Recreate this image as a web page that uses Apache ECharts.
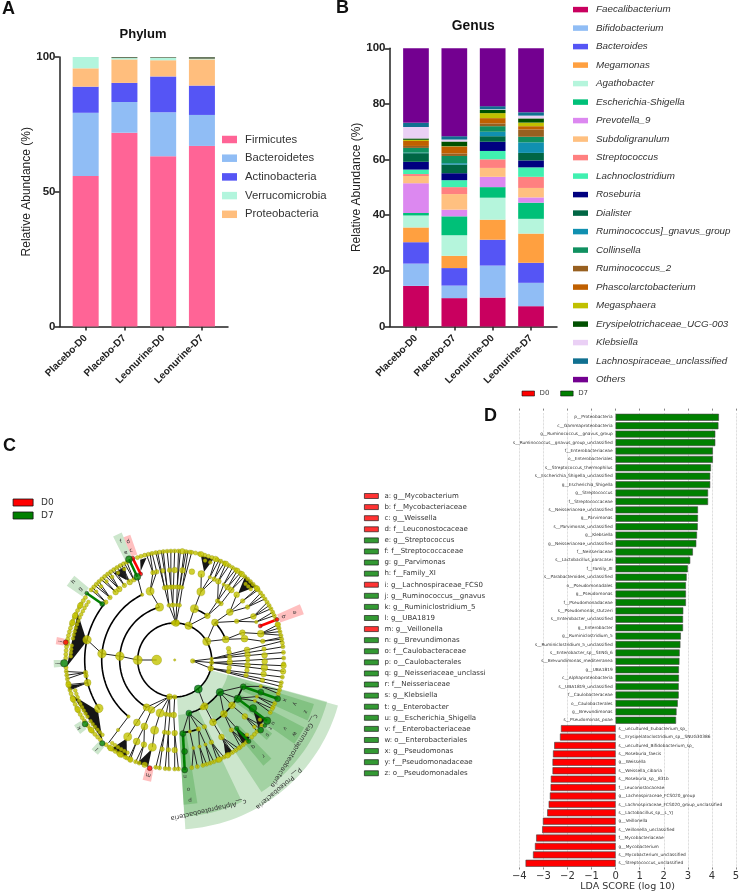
<!DOCTYPE html>
<html><head><meta charset="utf-8">
<style>html,body{margin:0;padding:0;background:#fff}#c{width:742px;height:893px}</style>
<script src="https://cdn.jsdelivr.net/npm/echarts@6/dist/echarts.min.js"></script>
</head><body><div id="c"></div>
<script>
// ---------- Panels A and B ----------
const groups = ['Placebo-D0','Placebo-D7','Leonurine-D0','Leonurine-D7'];
const phylumNames = ['Firmicutes','Bacteroidetes','Actinobacteria','Proteobacteria','Verrucomicrobia','Other phyla'];
const phylumLegend = ['Firmicutes','Bacteroidetes','Actinobacteria','Verrucomicrobia','Proteobacteria'];
const firmicutes = [55.8,71.9,63.2,67];
const bacteroidetes = [23.5,11.4,16.3,11.5];
const actinobacteria = [9.7,7.1,13.3,10.9];
const proteobacteria = [6.8,8.7,6,9.7];
const verrucomicrobia = [4.2,0.5,0.9,0.2];
const otherPhyla = [0,0.4,0.3,0.7];
const phylumValues = [firmicutes,bacteroidetes,actinobacteria,proteobacteria,verrucomicrobia,otherPhyla];
const phylumColors = ['#ff6496','#90bdf5','#5555f5','#ffbe7d','#b2f5dd','#6a7a60'];

const genusNames = ['Faecalibacterium','Bifidobacterium','Bacteroides','Megamonas','Agathobacter','Escherichia-Shigella','Prevotella_9','Subdoligranulum','Streptococcus','Lachnoclostridium','Roseburia','Dialister','Ruminococcus]_gnavus_group','Collinsella','Ruminococcus_2','Phascolarctobacterium','Megasphaera','Erysipelotrichaceae_UCG-003','Klebsiella','Lachnospiraceae_unclassified','Others'];
const genusColors = ['#c9005f','#90bdf5','#5555f5','#ffa040','#b5f5dc','#00c078','#dc88f0','#ffc080','#ff8080','#40f0b0','#000080','#006644','#1090b0','#109060','#986020','#c06000','#c0c000','#005000','#ead0f5','#107090','#730090'];
const faecalibacterium=[14.6,10.2,10.4,7.3];
const bifidobacterium=[8.0,4.5,11.5,8.4];
const bacteroides=[7.7,6.3,9.3,7.2];
const megamonas=[5.3,4.4,7.2,10.5];
const agathobacter=[4.3,7.4,7.9,5.3];
const escherichia=[0.9,6.8,3.8,5.8];
const prevotella=[10.7,2.4,3.7,1.9];
const subdoligranulum=[2.6,5.6,3.2,3.4];
const streptococcus=[0.7,2.5,3.1,4.0];
const lachnoclostridium=[1.6,2.5,3.0,3.4];
const roseburia=[2.8,2.5,3.3,2.5];
const dialister=[3.1,3.1,2.0,2.7];
const gnavus=[0.2,0.5,1.6,3.8];
const collinsella=[1.7,2.6,2.0,2.0];
const ruminococcus2=[0.7,0.9,1.0,2.6];
const phascolarctobacterium=[1.8,2.5,1.9,1.2];
const megasphaera=[0.4,0.1,1.8,1.3];
const erysipelotrichaceae=[0.5,1.7,1.2,1.5];
const klebsiella=[4.1,0.7,0.2,1.0];
const lachnoUnclassified=[1.5,1.2,1.1,1.2];
const othersGenus=[26.8,31.6,20.8,23];
const genusValues=[faecalibacterium,bifidobacterium,bacteroides,megamonas,agathobacter,escherichia,prevotella,subdoligranulum,streptococcus,lachnoclostridium,roseburia,dialister,gnavus,collinsella,ruminococcus2,phascolarctobacterium,megasphaera,erysipelotrichaceae,klebsiella,lachnoUnclassified,othersGenus];

// ---------- Panel D ----------
const ldaCategories=['p__Proteobacteria','c__Gammaproteobacteria','g__Ruminococcus__gnavus_group','s__Ruminococcus__gnavus_group_unclassified','f__Enterobacteriaceae','o__Enterobacteriales','s__Streptococcus_thermophilus','s__Escherichia_Shigella_unclassified','g__Escherichia_Shigella','g__Streptococcus','f__Streptococcaceae','s__Neisseriaceae_unclassified','g__Parvimonas','s__Parvimonas_unclassified','g__Klebsiella','g__Neisseriaceae_unclassified','f__Neisseriaceae','s__Lactobacillus_paracasei','f__Family_XI','s__Parabacteroides_unclassified','o__Pseudomonadales','g__Pseudomonas','f__Pseudomonadaceae','s__Pseudomonas_stutzeri','s__Enterobacter_unclassified','g__Enterobacter','g__Ruminiclostridium_5','s__Ruminiclostridium_5_unclassified','s__Enterobacter_sp__SENG_6','s__Brevundimonas_mediterranea','g__UBA1819','c__Alphaproteobacteria','s__UBA1819_unclassified','f__Caulobacteraceae','o__Caulobacterales','g__Brevundimonas','s__Pseudomonas_poae','s__uncultured_Eubacterium_sp_','s__Erysipelatoclostridium_sp__SNUG30386','s__uncultured_Bifidobacterium_sp_','s__Roseburia_faecis','g__Weissella','s__Weissella_cibaria','s__Roseburia_sp__831b','f__Leuconostocaceae','g__Lachnospiraceae_FCS020_group','s__Lachnospiraceae_FCS020_group_unclassified','s__Lactobacillus_sp__L_YJ','g__Veillonella','s__Veillonella_unclassified','f__Mycobacteriaceae','g__Mycobacterium','s__Mycobacterium_unclassified','s__Streptococcus_unclassified'];
const ldaD7=[4.29,4.27,4.14,4.14,4.04,4.04,3.96,3.93,3.93,3.84,3.84,3.42,3.42,3.41,3.38,3.35,3.21,3.10,3.00,2.95,2.92,2.92,2.92,2.81,2.80,2.80,2.71,2.69,2.66,2.65,2.63,2.63,2.62,2.62,2.58,2.53,2.51];
const ldaD0=[-2.27,-2.31,-2.55,-2.60,-2.62,-2.62,-2.69,-2.70,-2.73,-2.78,-2.84,-3.02,-3.05,-3.30,-3.35,-3.43,-3.74];

// ---------- Panel C (radius in px from centre, angle in degrees) ----------
const biomarkerNames=['a: g__Mycobacterium','b: f__Mycobacteriaceae','c: g__Weissella','d: f__Leuconostocaceae','e: g__Streptococcus','f: f__Streptococcaceae','g: g__Parvimonas','h: f__Family_XI','i: g__Lachnospiraceae_FCS020_group','j: g__Ruminococcus__gnavus_group','k: g__Ruminiclostridium_5','l: g__UBA1819','m: g__Veillonella','n: g__Brevundimonas','o: f__Caulobacteraceae','p: o__Caulobacterales','q: g__Neisseriaceae_unclassified','r: f__Neisseriaceae','s: g__Klebsiella','t: g__Enterobacter','u: g__Escherichia_Shigella','v: f__Enterobacteriaceae','w: o__Enterobacteriales','x: g__Pseudomonas','y: f__Pseudomonadaceae','z: o__Pseudomonadales'];
const biomarkerGroup=['D0','D0','D0','D0','D7','D7','D7','D7','D0','D7','D7','D7','D0','D7','D7','D7','D7','D7','D7','D7','D7','D7','D7','D7','D7','D7'];
const biomarkerNodes=[[110,21.6,4],[92,21.7,4],[110,112.4,4],[92.5,111.6,4],[110.6,114.4,7],[91.3,114.2,7],[110.4,142.8,4],[91.5,142.3,5],[110.4,170.8,5],[110.5,181.7,7.5],[110,215.5,6],[110.4,229,5.5],[111,257,5],[110.4,-84.8,6],[92,-83.8,6],[74,-83.6,6],[110,-47.7,4.5],[92.2,-47.8,4.5],[110.9,-39.2,6],[111.5,-36,4],[110.5,-33.3,7.5],[92,-31.7,7.5],[74,-31.6,7.5],[110,-20.6,6],[92,-20.5,6],[73.6,-21.3,6]];
const letterPlaces=[[129,21.6],[117,21.7],[118,111.7],[127,111.4],[118,114.5],[130,114.4],[118,143],[128,142.3],[115,170.8],[117,181.7],[117,215.5],[118,229],[118,257],[117,-85],[130,-84],[141,-83.8],[117,-47.8],[130.5,-47.3],[119,-38.9],[117,-35.6],[117,-32.7],[129.7,-31.8],[140.6,-31.7],[117,-20],[128,-20.2],[140.5,-21.6]];
const taxaGreen=[[37.4,-50.9,8],[55.6,-35.5,7.5],[55,-75,6]];
const taxaSectors=[[37,169.5,-86.4,-15.6],[55,158,-56.7,-15.3],[55,157,-86.5,-64.6]];
const boxesD7=[[74,146,-24.5,-17.5],[74,146,-35,-27.5],[92,138,-50,-45.5],[111,122,-41,-37],[74,145,-86.5,-81],[112,138,112.6,116.5],[112,131,140,145.5],[112,121,180,183.5],[112,120,213,218],[112,122,227,231]];
const boxesD0=[[112,137,19.5,24],[112,133,109.5,112.6],[112,120,169,172.5],[112,124,255,259]];
const linksD0=[[110,21.6,92,21.7],[110,112.4,92.5,111.6]];
const linksD7=[[110.6,114.4,91.3,114.2],[110.4,142.8,91.5,142.3],[110.4,-84.8,74,-83.6],[110,-47.7,92.2,-47.8],[110.5,-33.3,74,-31.6],[110,-20.6,73.6,-21.3]];
const cladeArcs=[[37,0,360],[55,106,240],[55,-75,-35.5],[55,22,43],[55,53.5,69],[73,116.5,230.7],[73,-58.4,-21.3],[73,-83.6,-71],[90,142,213.5],[73,50.6,54]];
const cladeWedges=[[93,71.6,108,69,76],[92,46.4,110,42,50],[90,168,108,154,183.5],[92,213.5,108,199,228],[92,238.5,109,234.4,244],[92,255.6,110,250,256],[93,121,106,118,125],[95,111,106,105.4,109],[92,194.7,110,193.5,196],[92,-32,108,-39,-33],[90,-48,108,-51,-46],[95,-59,108,-62,-58]];
const cladeLines=[
[18,180,37,[180]],[37,180,55,[176]],[55,176,73,[175]],[73,175,90,[167]],
[18,-3,37,[2,-4,-13]],[37,2,110,[10,7,4]],[37,-4,110,[1,-3,-6]],[37,-13,110,[-9,-12,-14]],
[37,88,55,[96,92,88,85]],[55,96,73,[98,96]],[55,92,73,[93,91]],[55,88,73,[88,86]],[55,85,73,[84]],
[73,98,110,[100,99]],[73,96,110,[97,96]],[73,93,110,[94,92]],[73,91,110,[90]],[73,88,110,[88,87]],[73,86,110,[85,84]],[73,84,110,[83,81]],
[37,68,55,[69,53.5]],[55,69,73,[69]],[73,69,90,[72.8,67,64]],[55,53.5,73,[54,50.6]],[73,54,90,[61,57,54]],[73,50.6,90,[51]],
[90,61,110,[62,60]],[90,64,110,[65,63]],[90,67,110,[68,66]],[90,57,110,[58,56]],[90,54,110,[55,53]],[90,51,110,[52,50]],
[37,30,55,[43,22]],[55,43,73,[41,32]],[73,41,90,[46.5,41,36]],[73,32,90,[29,25]],[90,41,110,[41,40]],[90,36,110,[38,36,34]],[90,29,110,[32,30,28]],[90,25,110,[26,24]],
[55,22,73,[22,17]],[73,22,90,[17]],[73,17,90,[12]],[90,17,110,[19,17,15,13]],[90,12,110,[12,11]],
[90,188,110,[186,188,190]],[90,194.6,110,[193,196]],
[55,106,73,[109.7]],[73,109.7,90,[104,101.5]],[73,116.5,90,[114.2]],[90,104,110,[105,103]],[90,101.5,110,[102]],
[90,117,110,[116,117.5]],[90,120,110,[119,120.5,122]],[90,124,110,[123.5,125]],[90,128,110,[126.5,128,129.5]],[90,131,110,[131,132.5]],[90,136,110,[134,135.5,137]],[90,140,110,[138.5,140]],
[37,262,55,[239.2,245,254.6,261,265]],[37,270,55,[269]],[55,239.2,73,[238.8]],[55,245,73,[245.5]],[55,254.6,73,[254]],[55,261,73,[262]],[55,265,73,[265]],[55,269,73,[270]],
[73,238.8,90,[238.5]],[73,245.5,90,[245,250]],[73,254,90,[255.6]],[73,262,110,[260,262]],[73,265,110,[265,267]],[73,270,110,[270,272]],[90,245,110,[245,246]],[90,250,110,[249,251]],
[73,230.7,106,[231.4]],
[37,-50.9,55,[-57]],[55,-75,73,[-83.6,-78,-71,-66]],[73,-78,90,[-78]],[73,-71,90,[-74,-70]],[73,-66,90,[-66]],[90,-78,110,[-81,-78]],[90,-74,110,[-75,-73]],[90,-70,110,[-71,-69]],[90,-66,110,[-67,-65,-63]],
[55,-57,73,[-58.4]],[73,-58.4,90,[-58.7]],[90,-58.7,110,[-60,-58,-56,-54]],
[55,-35.5,73,[-47.6,-38.4,-31.6,-21.3]],[73,-47.6,90,[-47.8,-51]],[90,-51,110,[-53,-51,-49]],[73,-38.4,90,[-38.8]],[90,-38.8,110,[-41,-39,-37]],[73,-31.6,90,[-27,-24]],[90,-27,110,[-28.8,-26.5]],[90,-24,110,[-25.4,-23.5]],[73,-21.3,90,[-17]],[90,-17,110,[-18,-16]]
];
// nodes per ring: [angle, size]
const ring0=[[0,2]];
const ring18=[[180,8.5],[-3,4]];
const ring37=[[180,8],[88,6],[92,4],[86,4],[68,6.5],[30,7],[2,3],[-4,4],[-13,5],[262,5],[270,4]];
const ring55=[[176,7.5],[106,7],[69,7],[53.5,5],[43,6],[22,6],[96,3.5],[92,4],[88,3],[85,3.5],[12,4],[8,4],[3,4],[-2,5],[-8,4],[-12,4],[239.2,6],[245,6],[254.6,7],[261,4],[265,4],[269,5],[-57,6],[-60,4]];
const ring73=[[175,7.5],[109.7,7],[116.5,3],[230.7,3],[98,4],[96,4],[93,4],[91,4],[88,4],[86,4],[84,3],[69,7],[54,4],[50.6,4],[41,6],[32,4],[22,5],[17,6],[8,5],[4,5],[0,4],[-4,5],[-8,4],[-12,4],[238.8,6],[245.5,6],[254,7],[262,4],[265,4],[270,5],[-58.4,6],[-66,4],[-71,4],[-78,3],[-47.6,6],[-38.4,6]];
const ring90=[[167,7.5],[188,4],[190,4],[194.6,6],[212.5,7.5],[104,4],[101.5,4],[97.6,4],[93.3,4],[90,5],[85,5],[79,5],[72.8,6],[67,3],[64,4],[61,5],[57,3],[54,5],[51,5],[46.5,5],[41,4],[36,4],[29,5],[25,3],[17,6],[12,4],[7,4],[3,5],[-1,5],[-5,6],[-9,5],[-13,4],[128,5],[131,5],[136,4],[140,4],[120,5],[124,4],[117,4],[231,3],[238.5,7],[245,6],[250,5],[255.6,7],[262,4],[266,4],[270,5],[-78,3],[-74,3],[-70,3],[-66,4],[-58.7,5],[-51,4],[-38.8,5],[-27,3],[-24,3],[-17,3]];
const outerSmall=[100,98,96,94,92,90,88,84,82,81,79,77,74,72,70,67,65,63,60,58,56,53,50,48,46,44,42,40,38,36,34,32,30,28,26,24,22,19,17,15,13,11,9,7,4,1,-2,-9,-12,-14,-16,-18,-23.5,-25.4,-26.5,-28.8,-37,-41,-43,-45,-49,-51,-53,-54,-56,-58,-60,-63,-65,-67,-69,-71,-73,-75,-78,-81,262,265,267,270,272,260,251,249,246,244,106,104,102,108,110,116,118,120,122,124,126,128,130,132,134,136,138,140,145,147,149,151,153,155,157,159,161,163,165,167,169,173,175,177,179,184,186,188,190,192,194,196,198,200,202,204,206,208,210,212,214,217,219,221,223,225,227,231,233,235,237,239,241,243];
const outerLarge=[86,76,68,62,55,52,41,-3,-6,19,150,156,160,171,193,201,207,220,234,240,246,254,-61,-66];
const innerBand=[146,148,150,152,154,156,158,160,162,164,166,168,172,174,176,178,197,199,201,203,205,207,209,211,213,216,218,220,222,224,226,233,235,237,239,241,243,70,73,47,45,43,-35,-40,-46,119,123,127,131,135,139];
const texts=['c__Gammaproteobacteria','p__Proteobacteria','c__Alphaproteobacteria'];
const textPlaces=[[150,-37.2,-121.8],[165.6,-51,-139.5],[153.7,-77.3,-167.1]];

const FONT='"Liberation Sans",Arial,sans-serif';
const DJ='"DejaVu Sans",sans-serif';
const GREEN='#008000', RED='#ff0000', OLIVE='#c4c400';
const axisLine={lineStyle:{color:'#222',width:1.5}};

function stackBars(names,vals,cols,xIdx,yIdx,width){
  return names.map((n,i)=>({name:n,type:'bar',stack:'s'+xIdx,xAxisIndex:xIdx,yAxisIndex:yIdx,barWidth:width,
    itemStyle:{color:cols[i]},data:vals[i],z:3,silent:true}));
}
function catAxis(gridIndex){
  return {type:'category',gridIndex,data:groups,axisLine:{show:false},
    axisTick:{show:true,alignWithLabel:true,length:4,lineStyle:{color:'#222',width:1.5}},
    axisLabel:{rotate:45,interval:0,margin:10,fontSize:10,fontWeight:'bold',fontFamily:FONT,color:'#222'}};
}
function hiddenY(gridIndex){return {type:'value',gridIndex,min:0,max:100,show:false};}
function frameX(gridIndex){return {type:'value',gridIndex,min:0,max:1,axisLine:{show:true,...axisLine},axisTick:{show:false},axisLabel:{show:false},splitLine:{show:false}};}
function frameY(gridIndex,interval){return {type:'value',gridIndex,min:0,max:100,interval,
  axisLine:{show:true,...axisLine},axisTick:{show:true,length:5,lineStyle:{color:'#222',width:1.5}},
  axisLabel:{fontSize:11.5,fontWeight:'bold',fontFamily:FONT,color:'#222',margin:4},splitLine:{show:false},
  name:'Relative Abundance (%)',nameLocation:'middle',nameGap:27,nameTextStyle:{fontSize:12,fontFamily:FONT,color:'#222'}};}

const ringRows=[];
[[0,ring0],[18,ring18],[37,ring37],[55,ring55],[73,ring73],[90,ring90]].forEach(([r,l])=>l.forEach(([a,s])=>ringRows.push([r,a,s*1.15])));
outerSmall.forEach(a=>ringRows.push([109,a,4.2]));
outerLarge.forEach(a=>ringRows.push([109,a,5.6]));
innerBand.forEach(a=>ringRows.push([104,a,3.8]));
const lineRows=[];
cladeLines.forEach(([r0,a0,r1,kids])=>kids.forEach(a=>lineRows.push([r0,a0,r1,a])));

function arcPts(api,r,a0,a1){const p=[];const n=Math.max(2,Math.ceil(Math.abs(a1-a0)/2));for(let i=0;i<=n;i++)p.push(api.coord([r,a0+(a1-a0)*i/n]));return p;}
const sectorRender=(fill)=>(params,api)=>{
  const r0=api.value(0),r1=api.value(1),a0=api.value(2),a1=api.value(3);
  const pts=arcPts(api,r1,a0,a1).concat(arcPts(api,r0,a1,a0));
  return {type:'polygon',shape:{points:pts},style:{fill,stroke:null}};
};
const segmentRender=(stroke,lineWidth)=>(params,api)=>({type:'line',
  shape:{x1:api.coord([api.value(0),api.value(1)])[0],y1:api.coord([api.value(0),api.value(1)])[1],
         x2:api.coord([api.value(2),api.value(3)])[0],y2:api.coord([api.value(2),api.value(3)])[1]},
  style:{stroke,lineWidth}});
function customPolar(data,renderItem,z){return {type:'custom',coordinateSystem:'polar',polarIndex:0,data,renderItem,z,silent:true,encode:{radius:0,angle:1},animation:false};}

const series=[
  ...stackBars(phylumNames,phylumValues,phylumColors,0,0,26),
  ...stackBars(genusNames,genusValues,genusColors,2,2,25.7),
  {name:'D7',type:'bar',stack:'lda',xAxisIndex:4,yAxisIndex:4,barWidth:7,silent:true,z:3,
    itemStyle:{color:GREEN,borderColor:'#444',borderWidth:0.6},
    label:{show:true,position:'left',distance:3,formatter:'{b}',fontSize:4.3,fontFamily:DJ,color:'#333'},
    data:ldaD7.concat(ldaD0.map(()=>null))},
  {name:'D0',type:'bar',stack:'lda',xAxisIndex:4,yAxisIndex:4,barWidth:7,silent:true,z:3,
    itemStyle:{color:RED,borderColor:'#444',borderWidth:0.6},
    label:{show:true,position:'right',distance:3,formatter:'{b}',fontSize:4.3,fontFamily:DJ,color:'#333'},
    data:ldaD7.map(()=>null).concat(ldaD0)},
  customPolar(taxaSectors,sectorRender('rgba(0,128,0,0.2)'),1),
  customPolar(boxesD7,sectorRender('rgba(0,128,0,0.2)'),1),
  customPolar(boxesD0,sectorRender('rgba(255,0,0,0.25)'),1),
  customPolar(cladeWedges,(params,api)=>{
    const root=api.coord([api.value(0),api.value(1)]);
    const p0=api.coord([api.value(2),api.value(3)]),p1=api.coord([api.value(2),api.value(4)]);
    return {type:'polygon',shape:{points:[root,p0,p1]},style:{fill:'#161616'}};
  },4),
  customPolar(lineRows,segmentRender('#222',1),4),
  customPolar(cladeArcs,(params,api)=>({type:'polyline',shape:{points:arcPts(api,api.value(0),api.value(1),api.value(2))},style:{stroke:'#000',lineWidth:1.6,fill:null}}),5),
  customPolar(linksD7,segmentRender(GREEN,2.6),6),
  customPolar(linksD0,segmentRender(RED,2.6),6),
  {type:'scatter',coordinateSystem:'polar',polarIndex:0,silent:true,z:7,data:ringRows,symbolSize:v=>v[2],
    itemStyle:{color:OLIVE,borderColor:'#8a8a00',borderWidth:0.4}},
  {type:'scatter',coordinateSystem:'polar',polarIndex:0,silent:true,z:8,data:taxaGreen,symbolSize:v=>v[2],
    itemStyle:{color:GREEN,borderColor:'#033',borderWidth:0.5}},
  ...biomarkerNames.map((n,i)=>({name:n,type:'scatter',coordinateSystem:'polar',polarIndex:0,silent:true,z:8,
    data:[biomarkerNodes[i]],symbolSize:v=>v[2],
    itemStyle:{color:biomarkerGroup[i]==='D0'?RED:GREEN,borderColor:'#222',borderWidth:0.5}})),
  customPolar(letterPlaces,(params,api)=>{
    const p=api.coord([api.value(0),api.value(1)]);
    return {type:'text',x:p[0],y:p[1],rotation:(api.value(1)-95)*Math.PI/180,
      style:{text:biomarkerNames[params.dataIndex][0],fontSize:5.5,fontFamily:DJ,fill:'#333',align:'center',verticalAlign:'middle'}};
  },9),
  customPolar(textPlaces,(params,api)=>{
    const p=api.coord([api.value(0),api.value(1)]);
    return {type:'text',x:p[0],y:p[1],rotation:api.value(2)*Math.PI/180,
      style:{text:texts[params.dataIndex],fontSize:6.6,fontFamily:DJ,fill:'#333',align:'center',verticalAlign:'middle'}};
  },9)
];

const txt=(t,x,y,size,align)=>({type:'text',x,y,silent:true,style:{text:t,fontSize:size,fontWeight:'bold',fontFamily:FONT,fill:'#111',align:align||'left',verticalAlign:'middle'}});
const gridBase={outerBoundsMode:'none',containLabel:false};

const option={
  animation:false,backgroundColor:'#fff',
  graphic:{elements:[txt('A',2,9,18),txt('B',336,8,18),txt('C',3,446,18),txt('D',484,416,18),txt('Phylum',143,34,13,'center'),txt('Genus',473.3,26,13.8,'center')]},
  grid:[
    {...gridBase,left:66.3,top:57,width:155,height:269.5},
    {...gridBase,left:59.5,top:57,width:168.5,height:269.5},
    {...gridBase,left:396.8,top:48.3,width:153.4,height:278.2},
    {...gridBase,left:389.5,top:48.3,width:167.5,height:278.2},
    {...gridBase,left:519.3,top:413.1,width:216.7,height:454.4}
  ],
  xAxis:[catAxis(0),frameX(1),catAxis(2),frameX(3),
    {type:'value',gridIndex:4,min:-4,max:5,interval:1,axisLine:{show:false},axisTick:{show:true,length:2,lineStyle:{color:'#333',width:0.6}},
     axisLabel:{fontSize:10,fontFamily:DJ,color:'#333',margin:3.5,formatter:v=>String(v).replace('-','\u2212')},splitLine:{show:true,lineStyle:{color:'#bbb',type:'dotted',width:0.7}},
     name:'LDA SCORE (log 10)',nameLocation:'middle',nameGap:19,nameMoveOverlap:false,nameTextStyle:{fontSize:9.5,fontFamily:DJ,color:'#333',verticalAlign:'middle'}},
    {type:'value',gridIndex:4,position:'top',offset:2.5,min:-4,max:5,interval:1,axisLine:{show:false},axisTick:{show:true,length:2,lineStyle:{color:'#333',width:0.6}},axisLabel:{show:false},splitLine:{show:false}}
  ],
  yAxis:[hiddenY(0),frameY(1,50),hiddenY(2),frameY(3,20),
    {type:'category',gridIndex:4,inverse:true,data:ldaCategories,show:false}],
  polar:{center:[174.7,660],radius:170},
  radiusAxis:{min:0,max:170,show:false},
  angleAxis:{min:0,max:360,startAngle:0,clockwise:false,show:false},
  legend:[
    {data:phylumLegend,left:222,top:134,orient:'vertical',padding:0,itemWidth:15,itemHeight:7.5,itemGap:7.7,icon:'rect',selectedMode:false,textStyle:{fontSize:11.3,fontFamily:FONT,color:'#333',padding:[0,0,0,3]}},
    {data:genusNames,left:573,top:4.6,orient:'vertical',padding:0,itemWidth:15,itemHeight:5.5,itemGap:8.5,icon:'rect',selectedMode:false,
      textStyle:{fontSize:9.8,fontStyle:'italic',fontFamily:FONT,color:'#333',padding:[0,0,0,3]}},
    {data:['D0','D7'],left:12.7,top:498,orient:'vertical',padding:0,itemWidth:20,itemHeight:7,itemGap:4,icon:'rect',selectedMode:false,
      itemStyle:{borderColor:'#111',borderWidth:0.8},textStyle:{fontSize:9,fontFamily:DJ,color:'#333',padding:[0,0,0,3]}},
    {data:biomarkerNames,left:364,top:492.5,orient:'vertical',padding:0,itemWidth:14,itemHeight:5,itemGap:4.09,icon:'rect',selectedMode:false,
      itemStyle:{borderColor:'#111',borderWidth:0.8},textStyle:{fontSize:7,fontFamily:DJ,color:'#333',width:104,overflow:'truncate',ellipsis:'',padding:[0,0,0,1]}},
    {data:['D0','D7'],left:521.7,top:390,orient:'horizontal',padding:0,itemWidth:12.5,itemHeight:5,itemGap:11,icon:'rect',selectedMode:false,
      itemStyle:{borderColor:'#111',borderWidth:0.6},textStyle:{fontSize:7,fontFamily:DJ,color:'#444'}}
  ],
  series
};
const chart=echarts.init(document.getElementById('c'),null,{renderer:'canvas',width:742,height:893});
chart.setOption(option);
</script></body></html>
